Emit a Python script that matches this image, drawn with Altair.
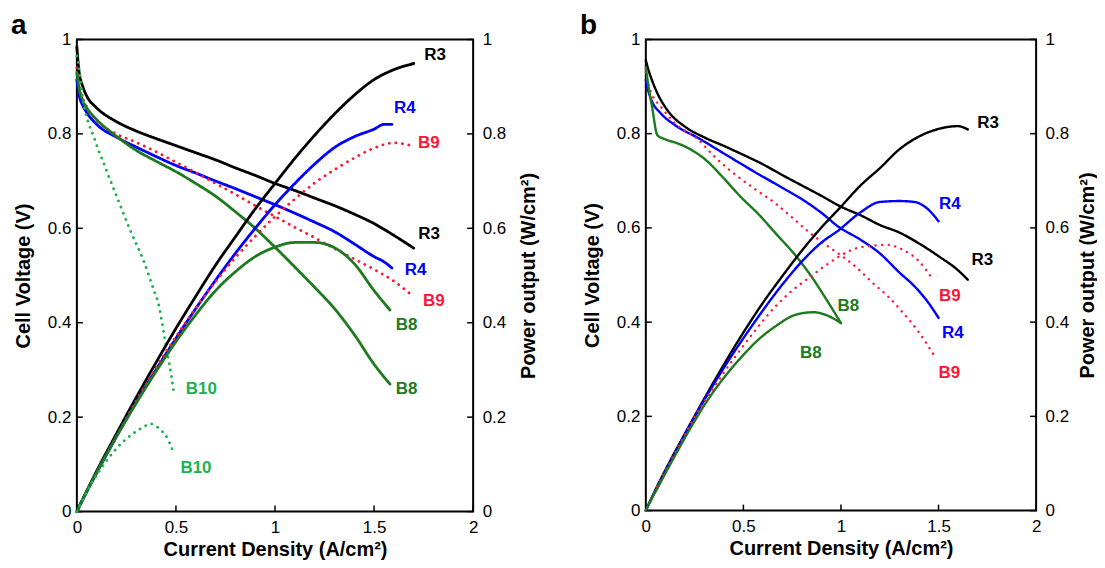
import altair as alt
import pandas as pd

FONT = "Liberation Sans"
SERIES = ["R3", "R4", "B9", "B8", "B10"]
COLORS = ["#000000", "#0000ff", "#ff1535", "#1e7a1e", "#1ab24c"]
DASHES = [[1, 0], [1, 0], [0.1, 6.5], [1, 0], [0.1, 6.5]]

x_ticks = [0, 0.5, 1, 1.5, 2]
y_ticks = [0, 0.2, 0.4, 0.6, 0.8, 1]

# ---------------- panel a ----------------
a_R3_i = [0, 0.01, 0.03, 0.05, 0.1, 0.2, 0.3, 0.4, 0.5, 0.6, 0.7, 0.8, 0.9, 1.0, 1.1, 1.2, 1.3, 1.4, 1.5, 1.6, 1.7]
a_R3_v = [0.985, 0.935, 0.90, 0.88, 0.855, 0.826, 0.806, 0.79, 0.775, 0.76, 0.745, 0.728, 0.712, 0.695, 0.68, 0.664, 0.648, 0.63, 0.61, 0.585, 0.558]
a_R3_p = [0, 0.009, 0.027, 0.044, 0.086, 0.165, 0.242, 0.316, 0.388, 0.456, 0.522, 0.582, 0.641, 0.695, 0.748, 0.797, 0.842, 0.882, 0.915, 0.936, 0.949]

a_R4_i = [0, 0.01, 0.03, 0.05, 0.1, 0.2, 0.3, 0.4, 0.5, 0.6, 0.7, 0.8, 0.9, 1.0, 1.1, 1.2, 1.3, 1.4, 1.5, 1.55, 1.59]
a_R4_v = [0.915, 0.885, 0.86, 0.845, 0.82, 0.793, 0.772, 0.752, 0.733, 0.717, 0.7, 0.684, 0.667, 0.65, 0.632, 0.613, 0.593, 0.567, 0.54, 0.529, 0.516]
a_R4_p = [0, 0.009, 0.026, 0.042, 0.082, 0.159, 0.232, 0.301, 0.367, 0.43, 0.49, 0.547, 0.6, 0.65, 0.695, 0.736, 0.771, 0.794, 0.81, 0.82, 0.82]

a_B9_i = [0, 0.01, 0.03, 0.05, 0.1, 0.2, 0.3, 0.4, 0.5, 0.6, 0.7, 0.8, 0.9, 1.0, 1.1, 1.2, 1.3, 1.4, 1.5, 1.6, 1.68]
a_B9_v = [0.94, 0.905, 0.875, 0.857, 0.828, 0.8, 0.782, 0.762, 0.74, 0.718, 0.695, 0.672, 0.648, 0.625, 0.602, 0.58, 0.557, 0.535, 0.513, 0.488, 0.462]
a_B9_p = [0, 0.009, 0.026, 0.043, 0.083, 0.16, 0.235, 0.305, 0.37, 0.431, 0.487, 0.538, 0.583, 0.625, 0.662, 0.696, 0.724, 0.749, 0.77, 0.781, 0.776]

a_B8_i = [0, 0.01, 0.03, 0.05, 0.1, 0.2, 0.3, 0.4, 0.5, 0.6, 0.7, 0.8, 0.9, 1.0, 1.1, 1.2, 1.3, 1.4, 1.5, 1.58]
a_B8_v = [0.93, 0.9, 0.87, 0.855, 0.83, 0.795, 0.765, 0.742, 0.72, 0.695, 0.668, 0.635, 0.6, 0.56, 0.518, 0.475, 0.43, 0.375, 0.312, 0.27]
a_B8_p = [0, 0.009, 0.026, 0.043, 0.083, 0.159, 0.23, 0.297, 0.36, 0.417, 0.468, 0.508, 0.54, 0.56, 0.57, 0.57, 0.559, 0.525, 0.468, 0.427]

a_B10_vi = [0, 0.004, 0.03, 0.093, 0.15, 0.21, 0.27, 0.336, 0.39, 0.408, 0.443, 0.461, 0.477, 0.488]
a_B10_v = [0.965, 0.958, 0.876, 0.785, 0.722, 0.658, 0.595, 0.532, 0.467, 0.446, 0.368, 0.326, 0.287, 0.256]
a_B10_pi = [0, 0.03, 0.093, 0.15, 0.21, 0.27, 0.336, 0.37, 0.393, 0.427, 0.448, 0.465, 0.479, 0.489]
a_B10_p = [0, 0.026, 0.073, 0.108, 0.138, 0.161, 0.179, 0.186, 0.183, 0.171, 0.162, 0.148, 0.135, 0.12]

a_lab_series = ["R3", "R3", "R4", "R4", "B9", "B9", "B8", "B8", "B10", "B10"]
a_lab_x = [1.808, 1.777, 1.655, 1.709, 1.776, 1.802, 1.664, 1.664, 0.628, 0.601]
a_lab_y = [0.968, 0.587, 0.854, 0.511, 0.781, 0.447, 0.395, 0.259, 0.259, 0.093]

# ---------------- panel b ----------------
b_R3_i = [0, 0.01, 0.03, 0.06, 0.11, 0.2, 0.3, 0.4, 0.5, 0.6, 0.7, 0.8, 0.9, 1.0, 1.1, 1.2, 1.3, 1.4, 1.5, 1.6, 1.65]
b_R3_v = [0.956, 0.94, 0.915, 0.885, 0.85, 0.815, 0.792, 0.774, 0.755, 0.735, 0.712, 0.69, 0.668, 0.645, 0.627, 0.606, 0.59, 0.567, 0.54, 0.51, 0.49]
b_R3_p = [0, 0.009, 0.027, 0.053, 0.094, 0.163, 0.238, 0.31, 0.378, 0.441, 0.498, 0.552, 0.601, 0.645, 0.69, 0.727, 0.767, 0.794, 0.81, 0.816, 0.809]

b_R4_i = [0, 0.01, 0.03, 0.077, 0.15, 0.272, 0.4, 0.557, 0.7, 0.807, 0.9, 0.985, 1.1, 1.199, 1.3, 1.377, 1.45, 1.5]
b_R4_v = [0.914, 0.895, 0.87, 0.843, 0.818, 0.79, 0.758, 0.719, 0.685, 0.659, 0.632, 0.603, 0.575, 0.546, 0.505, 0.476, 0.44, 0.409]
b_R4_p = [0, 0.009, 0.026, 0.065, 0.123, 0.215, 0.303, 0.4, 0.48, 0.532, 0.569, 0.594, 0.633, 0.655, 0.657, 0.655, 0.638, 0.614]

b_B9_i = [0, 0.01, 0.03, 0.077, 0.15, 0.272, 0.35, 0.45, 0.55, 0.664, 0.75, 0.842, 0.92, 0.985, 1.08, 1.163, 1.24, 1.305, 1.4, 1.475]
b_B9_v = [0.931, 0.91, 0.885, 0.857, 0.822, 0.786, 0.752, 0.716, 0.685, 0.652, 0.622, 0.589, 0.565, 0.546, 0.516, 0.483, 0.455, 0.426, 0.378, 0.331]
b_B9_p = [0, 0.009, 0.027, 0.066, 0.123, 0.214, 0.263, 0.322, 0.377, 0.433, 0.467, 0.496, 0.52, 0.538, 0.557, 0.562, 0.564, 0.556, 0.529, 0.488]

b_B8_i = [0, 0.01, 0.032, 0.059, 0.1, 0.166, 0.24, 0.308, 0.4, 0.486, 0.58, 0.664, 0.77, 0.86, 0.93, 1.0]
b_B8_v = [0.941, 0.91, 0.857, 0.797, 0.788, 0.779, 0.764, 0.744, 0.705, 0.666, 0.628, 0.589, 0.54, 0.49, 0.445, 0.398]
b_B8_p = [0, 0.009, 0.027, 0.047, 0.079, 0.129, 0.183, 0.229, 0.282, 0.324, 0.364, 0.391, 0.416, 0.421, 0.414, 0.398]

b_lab_series = ["R3", "R3", "R4", "R4", "B9", "B9", "B8", "B8"]
b_lab_x = [1.754, 1.724, 1.558, 1.573, 1.558, 1.555, 1.038, 0.846]
b_lab_y = [0.822, 0.531, 0.651, 0.376, 0.455, 0.291, 0.435, 0.335]


def long_df(parts):
    rows = []
    for s, xs, ys in parts:
        for k, (x, y) in enumerate(zip(xs, ys)):
            rows.append({"series": s, "i": x, "val": y, "k": k})
    return pd.DataFrame(rows)


def panel(v_parts, p_parts, lab_s, lab_x, lab_y, W, H, letter, sw, rpad):
    xsc = alt.Scale(domain=[0, 2], nice=False, zero=False)
    ysc = alt.Scale(domain=[0, 1], nice=False, zero=False)
    xaxis = alt.Axis(values=x_ticks, format="~g", title="Current Density (A/cm²)",
                     labelPadding=8, titlePadding=4)
    laxis = alt.Axis(orient="left", values=y_ticks, format="~g", title="Cell Voltage (V)",
                     labelPadding=6, titlePadding=14)
    raxis = alt.Axis(orient="right", values=y_ticks, format="~g", title="Power output (W/cm²)",
                     labelPadding=9, titlePadding=rpad, titleAngle=270, titleBaseline="top")
    color = alt.Color("series:N", scale=alt.Scale(domain=SERIES, range=COLORS), legend=None)
    dash = alt.StrokeDash("series:N", scale=alt.Scale(domain=SERIES, range=DASHES), legend=None)

    v_df = long_df(v_parts)
    p_df = long_df(p_parts)
    lab_df = pd.DataFrame({"series": lab_s, "x": lab_x, "y": lab_y})
    xt_df = pd.DataFrame({"t": x_ticks})
    yt_df = pd.DataFrame({"t": y_ticks})

    line_props = dict(strokeWidth=sw, strokeCap="round", strokeJoin="round",
                      interpolate="monotone")

    vlines = alt.Chart(v_df).mark_line(**line_props).encode(
        x=alt.X("i:Q", scale=xsc, axis=xaxis),
        y=alt.Y("val:Q", scale=ysc, axis=laxis),
        color=color, strokeDash=dash, detail="series:N", order="k:Q")
    labels = alt.Chart(lab_df).mark_text(font=FONT, fontSize=17, fontWeight="bold",
                                         align="center", baseline="middle").encode(
        x=alt.X("x:Q", scale=xsc, axis=xaxis),
        y=alt.Y("y:Q", scale=ysc, axis=laxis),
        text="series:N", color=color)
    bticks = alt.Chart(xt_df).mark_rule(color="black", strokeWidth=1.5).encode(
        x=alt.X("t:Q", scale=xsc, axis=xaxis), y=alt.value(H), y2=alt.value(H - 6))
    lticks = alt.Chart(yt_df).mark_rule(color="black", strokeWidth=1.5).encode(
        y=alt.Y("t:Q", scale=ysc, axis=laxis), x=alt.value(0), x2=alt.value(6))
    letter_mark = alt.Chart(pd.DataFrame({"t": [letter]})).mark_text(
        font=FONT, fontSize=28, fontWeight="bold", align="left", baseline="alphabetic",
        color="black").encode(text="t:N", x=alt.value(-66), y=alt.value(-5.5))
    vgroup = alt.layer(vlines, labels, bticks, lticks, letter_mark)

    plines = alt.Chart(p_df).mark_line(**line_props).encode(
        x=alt.X("i:Q", scale=xsc, axis=xaxis),
        y=alt.Y("val:Q", scale=ysc, axis=raxis),
        color=color, strokeDash=dash, detail="series:N", order="k:Q")
    rticks = alt.Chart(yt_df).mark_rule(color="black", strokeWidth=1.5).encode(
        y=alt.Y("t:Q", scale=ysc, axis=raxis), x=alt.value(W - 6), x2=alt.value(W))
    pgroup = alt.layer(plines, rticks)

    return alt.layer(vgroup, pgroup).resolve_scale(y="independent").properties(width=W, height=H)


pa = panel(
    [("R3", a_R3_i, a_R3_v), ("R4", a_R4_i, a_R4_v), ("B9", a_B9_i, a_B9_v),
     ("B8", a_B8_i, a_B8_v), ("B10", a_B10_vi, a_B10_v)],
    [("R3", a_R3_i, a_R3_p), ("R4", a_R4_i, a_R4_p), ("B9", a_B9_i, a_B9_p),
     ("B8", a_B8_i, a_B8_p), ("B10", a_B10_pi, a_B10_p)],
    a_lab_series, a_lab_x, a_lab_y, 397, 473, "a", 2.8, 13)

pb = panel(
    [("R3", b_R3_i, b_R3_v), ("R4", b_R4_i, b_R4_v), ("B9", b_B9_i, b_B9_v),
     ("B8", b_B8_i, b_B8_v)],
    [("R3", b_R3_i, b_R3_p), ("R4", b_R4_i, b_R4_p), ("B9", b_B9_i, b_B9_p),
     ("B8", b_B8_i, b_B8_p)],
    b_lab_series, b_lab_x, b_lab_y, 391, 472, "b", 2.4, 9)

chart = alt.hconcat(pa, pb, spacing=173, bounds="flush").configure_view(
    stroke="black", strokeWidth=2
).configure_axis(
    labelFont=FONT, titleFont=FONT, labelFontSize=17, titleFontSize=20,
    titleFontWeight="bold", labelColor="black", titleColor="black",
    grid=False, ticks=False, tickSize=0, domain=False, labelFlush=False,
    labelOverlap=False
).properties(
    padding={"left": 2, "top": 2, "right": -2, "bottom": 0},
    background="white"
)

chart.save("out.html", embed_options={"renderer": "svg", "actions": False})
